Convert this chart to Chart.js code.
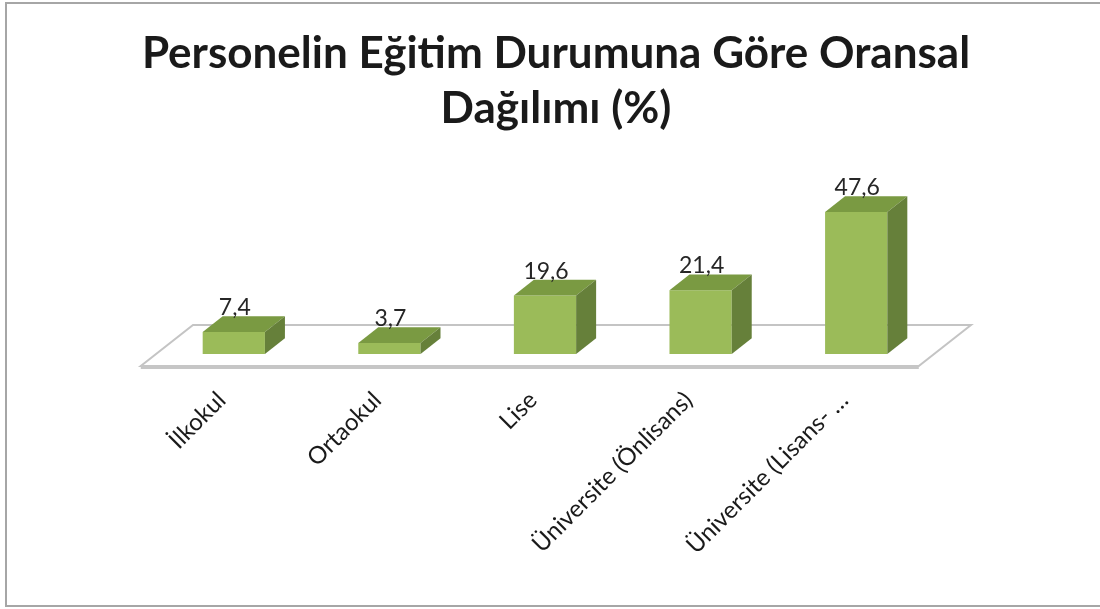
<!DOCTYPE html>
<html><head><meta charset="utf-8">
<script src="https://cdn.jsdelivr.net/npm/chart.js@4.4.1/dist/chart.umd.min.js"></script>
<style>
html,body{margin:0;padding:0;background:#fff;overflow:hidden;width:1100px;height:609px;}
#wrap{position:absolute;left:0;top:0;width:1100px;height:609px;}
#frame{position:absolute;left:5px;top:2px;width:1110px;height:605px;border:2px solid #a6a6a6;box-sizing:border-box;pointer-events:none;}
canvas{position:absolute;left:0;top:0;}
</style></head><body>
<div id="wrap"><canvas id="c" width="1100" height="609"></canvas><div id="frame"></div></div>
<script>
const categories = ['İlkokul', 'Ortaokul', 'Lise', 'Üniversite (Önlisans)', 'Üniversite (Lisans- …'];
const values = [7.4, 3.7, 19.6, 21.4, 47.6];
const titleLines = ['Personelin Eğitim Durumuna Göre Oransal', 'Dağılımı (%)'];
const yMin = 0;
const yMax = 60;

const FRONT = '#9BBB59';
const TOP = '#7A9A42';
const SIDE = '#66803A';
const DX = 20, DY = -15.7;

function fmt(v) { return v.toFixed(1).replace('.', ','); }

const bar3d = {
  id: 'bar3d',
  beforeDatasetsDraw(chart) {
    const {ctx, chartArea: a, scales} = chart;
    const y0 = scales.y.getPixelForValue(0);
    const f = -0.76, b = 1.85;
    const pts = [
      [a.left + f * DX, y0 + f * DY],
      [a.right + f * DX, y0 + f * DY],
      [a.right + b * DX, y0 + b * DY],
      [a.left + b * DX, y0 + b * DY]
    ];
    ctx.save();
    ctx.beginPath();
    pts.forEach((p, i) => i ? ctx.lineTo(p[0], p[1]) : ctx.moveTo(p[0], p[1]));
    ctx.closePath();
    ctx.fillStyle = '#fff';
    ctx.fill();
    ctx.lineWidth = 2;
    ctx.strokeStyle = '#c4c4c4';
    ctx.stroke();
    ctx.beginPath();
    ctx.moveTo(pts[0][0], pts[0][1] + 1);
    ctx.lineTo(pts[1][0], pts[1][1] + 1);
    ctx.lineWidth = 4;
    ctx.strokeStyle = '#c6c6c6';
    ctx.stroke();
    ctx.restore();
  },
  afterDatasetsDraw(chart) {
    const {ctx} = chart;
    const meta = chart.getDatasetMeta(0);
    ctx.save();
    meta.data.forEach((bar, i) => {
      const {x, y, base, width} = bar.getProps(['x', 'y', 'base', 'width'], true);
      const l = x - width / 2, r = x + width / 2;
      ctx.beginPath();
      ctx.moveTo(l, y); ctx.lineTo(r, y); ctx.lineTo(r + DX, y + DY); ctx.lineTo(l + DX, y + DY);
      ctx.closePath();
      ctx.fillStyle = TOP; ctx.fill();
      ctx.beginPath();
      ctx.moveTo(r, y); ctx.lineTo(r + DX, y + DY); ctx.lineTo(r + DX, base + DY); ctx.lineTo(r, base);
      ctx.closePath();
      ctx.fillStyle = SIDE; ctx.fill();
      ctx.font = '23px Lato';
      ctx.fillStyle = '#262626';
      ctx.textAlign = 'center';
      ctx.textBaseline = 'alphabetic';
      ctx.fillText(fmt(values[i]), x + 1, y + DY - 1);
    });
    ctx.restore();
  }
};

new Chart(document.getElementById('c'), {
  type: 'bar',
  data: {
    labels: categories,
    datasets: [{
      data: values,
      backgroundColor: FRONT,
      borderWidth: 0,
      barPercentage: 0.4,
      categoryPercentage: 1.0
    }]
  },
  options: {
    responsive: false,
    animation: false,
    devicePixelRatio: 1,
    layout: {padding: {left: 12, right: 0, top: 26, bottom: 0}},
    plugins: {
      legend: {display: false},
      tooltip: {enabled: false},
      title: {
        display: true,
        text: titleLines,
        color: '#1a1a1a',
        font: {family: 'Lato', size: 44, weight: 'bold', lineHeight: 1.25},
        padding: {top: 0, bottom: 39}
      }
    },
    scales: {
      x: {
        grid: {display: false, drawTicks: false},
        border: {display: false},
        ticks: {
          autoSkip: false, minRotation: 45, maxRotation: 45,
          labelOffset: -12, padding: 32,
          color: '#1a1a1a',
          font: {family: 'Lato', size: 24}
        },
        afterFit(s) { s.height = 255; }
      },
      y: {
        min: yMin, max: yMax,
        grid: {display: false, drawTicks: false},
        border: {display: false},
        ticks: {display: false},
        afterFit(s) { s.width = 144; }
      },
      y2: {
        position: 'right',
        min: yMin, max: yMax,
        grid: {display: false, drawTicks: false},
        border: {display: false},
        ticks: {display: false},
        afterFit(s) { s.width = 166; }
      }
    }
  },
  plugins: [bar3d]
});
</script>
</body></html>
